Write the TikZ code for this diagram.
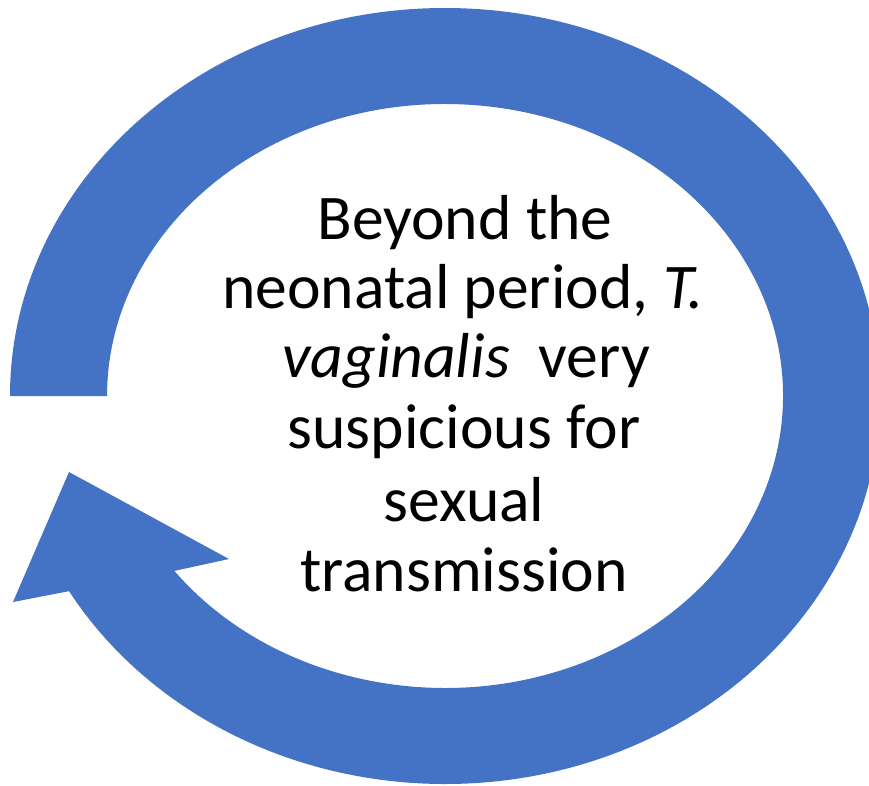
\documentclass[tikz,border=0pt]{standalone}
\usepackage{fontspec}
\setmainfont{Carlito}
\definecolor{ringblue}{HTML}{4472C4}
\begin{document}
\begin{tikzpicture}[x=0.02cm,y=-0.02cm,
  txt/.style={anchor=base, inner sep=0pt, font=\fontsize{36.2pt}{41pt}\selectfont},
  ring/.style={fill=ringblue, draw=none}]
\useasboundingbox (0,0) rectangle (869,785);
\fill[white] (0,0) rectangle (869,785);
\clip (0,0) rectangle (869,785);
\coordinate (wingL) at (13,602);
\coordinate (tip) at (69,472);
\coordinate (wingR) at (229,559);
\fill[ring] (10,396) arc[start angle=180, end angle=509.8, x radius=435, y radius=388]
  -- (wingL) -- (tip) -- (wingR) -- (174.4,570.9)
  arc[start angle=503.2, end angle=180, x radius=338, y radius=292] -- cycle;
\node[txt] (l1) at (465,239) {Beyond the};
\node[txt] (l2) at (463,308) {neonatal period, \textit{T.}};
\node[txt] (l3) at (466,377) {\textit{vaginalis}\ \ very};
\node[txt] (l4) at (464,448) {suspicious for};
\node[txt] (l5) at (464,521) {sexual};
\node[txt] (l6) at (464,591) {transmission};
\end{tikzpicture}
\end{document}
